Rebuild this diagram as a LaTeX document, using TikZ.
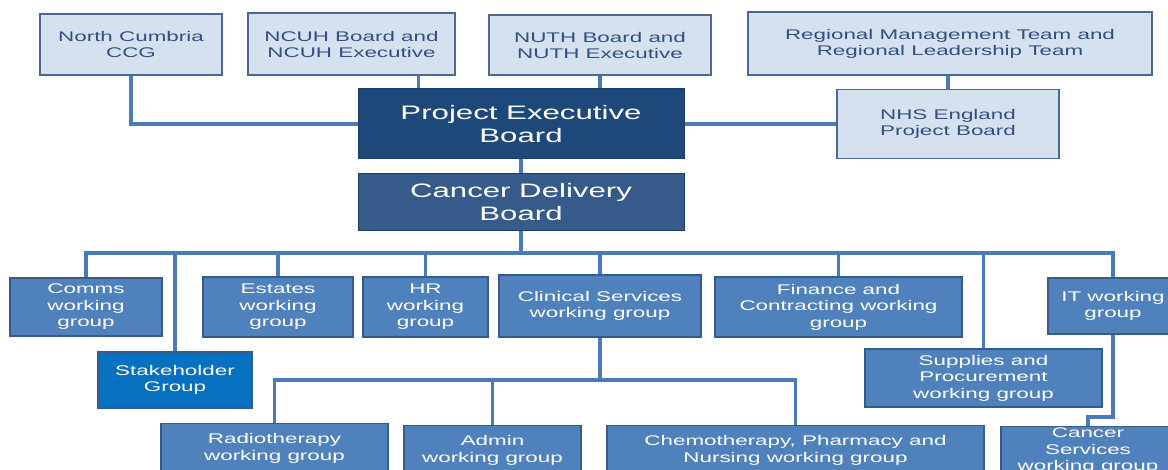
\documentclass[tikz,border=0pt]{standalone}
\usepackage{fontspec}
\usetikzlibrary{positioning, calc}
\newfontfamily\orgfont{Liberation Sans}[FakeStretch=1.6]
\definecolor{paleColor}{RGB}{214,225,239}
\definecolor{edgeColor}{RGB}{74,104,146}
\definecolor{inkColor}{RGB}{50,80,130}
\definecolor{navyColor}{RGB}{31,72,122}
\definecolor{deliveryColor}{RGB}{54,90,138}
\definecolor{groupColor}{RGB}{79,129,189}
\definecolor{stakeColor}{RGB}{8,112,192}
\definecolor{lineColor}{RGB}{74,122,184}
\tikzstyle{partner} = [rectangle, draw=edgeColor, line width=1.5pt, fill=paleColor, text=inkColor, align=center, inner sep=0pt, font=\orgfont\fontsize{14}{16}\selectfont]
\tikzstyle{board} = [rectangle, draw=navyColor!85!black, line width=1pt, fill=navyColor, text=white, align=center, inner sep=0pt, minimum width=326pt, font=\orgfont\fontsize{19.5}{23}\selectfont]
\tikzstyle{group} = [rectangle, draw=deliveryColor, line width=1.2pt, fill=groupColor, text=white, align=center, inner sep=0pt, font=\orgfont\fontsize{14}{16.5}\selectfont]
\tikzstyle{link} = [draw=lineColor, line width=3.3pt]

\begin{document}
\begin{tikzpicture}[x=1pt, y=-1pt]
	\useasboundingbox (0,0) rectangle (1168,470);
	\clip (0,0) rectangle (1168,470);

	% partners along the top
	\node (ncc) [partner, minimum width=182pt, minimum height=61pt] at (131,44.5) {North Cumbria\\CCG};
	\node (ncuh) [partner, minimum width=207pt, minimum height=62pt] at (351.5,44) {NCUH Board and\\NCUH Executive};
	\node (nuth) [partner, minimum width=222pt, minimum height=60pt] at (600,45) {NUTH Board and\\NUTH Executive};
	\node (rmt) [partner, minimum width=404pt, minimum height=63pt] at (950,43.5) {Regional Management Team and\\Regional Leadership Team};
	\node (nhs) [partner, minimum width=222pt, minimum height=69pt] at (948,124) {NHS England\\Project Board};

	\node (peb) [board, minimum height=70pt] at (521,124) {Project Executive\\Board};
	\node (cdb) [board, fill=deliveryColor, minimum height=57pt, below=14pt of peb] {Cancer Delivery\\Board};

	% working groups
	\node (comms) [group, minimum width=152pt, minimum height=58pt] at (86,307) {Comms\\working\\group};
	\node (stake) [group, fill=stakeColor, minimum width=154pt, minimum height=56pt] at (175,380) {Stakeholder\\Group};
	\node (estates) [group, minimum width=150pt, minimum height=60pt] at (278,307) {Estates\\working\\group};
	\node (hr) [group, minimum width=125pt, minimum height=60pt] at (425.5,307) {HR\\working\\group};
	\node (clin) [group, minimum width=202pt, minimum height=62pt] at (600,306) {Clinical Services\\working group};
	\node (fin) [group, minimum width=247pt, minimum height=60pt] at (838.5,307) {Finance and\\Contracting working\\group};
	\node (supp) [group, minimum width=237pt, minimum height=58pt] at (983.5,378) {Supplies and\\Procurement\\working group};
	\node (it) [group, minimum width=130pt, minimum height=56pt] at (1113,306) {IT working\\group};

	\node (radio) [group, anchor=north, minimum width=227pt, minimum height=50pt] at (274.5,423) {Radiotherapy\\working group};
	\node (admin) [group, anchor=north, minimum width=177pt, minimum height=50pt] at (492.5,425) {Admin\\working group};
	\node (chemo) [group, anchor=north, minimum width=377pt, minimum height=50pt] at (795.5,425) {Chemotherapy, Pharmacy and\\Nursing working group};
	\node (cs) [group, anchor=north, minimum width=174pt, minimum height=48pt] at (1088,426) {Cancer\\Services\\working group};

	\coordinate (ncuhfoot) at ([xshift=-37pt]ncuh.south east);
	\coordinate (bus) at (521,253);
	\coordinate (sub) at (600,380);

	\draw[link] (ncc.south) |- (peb.west);
	\draw[link] (ncuhfoot) -- (ncuhfoot |- peb.north);
	\draw[link] (nuth.south) -- (nuth.south |- peb.north);
	\draw[link] (peb.east) -- (nhs.west);
	\draw[link] (nhs.north |- rmt.south) -- (nhs.north);
	\draw[link] (peb.south) -- (cdb.north);

	\draw[link] (cdb.south) -- (bus);
	\foreach \g in {comms, stake, estates, hr, clin, fin, supp, it}
		\draw[link] (bus) -| (\g.north);

	\draw[link] (clin.south) -- (sub);
	\foreach \g in {radio, admin, chemo}
		\draw[link] (sub) -| (\g.north);

	\draw[link] (it.south) |- ([yshift=9pt]cs.north) -- (cs.north);
\end{tikzpicture}
\end{document}
